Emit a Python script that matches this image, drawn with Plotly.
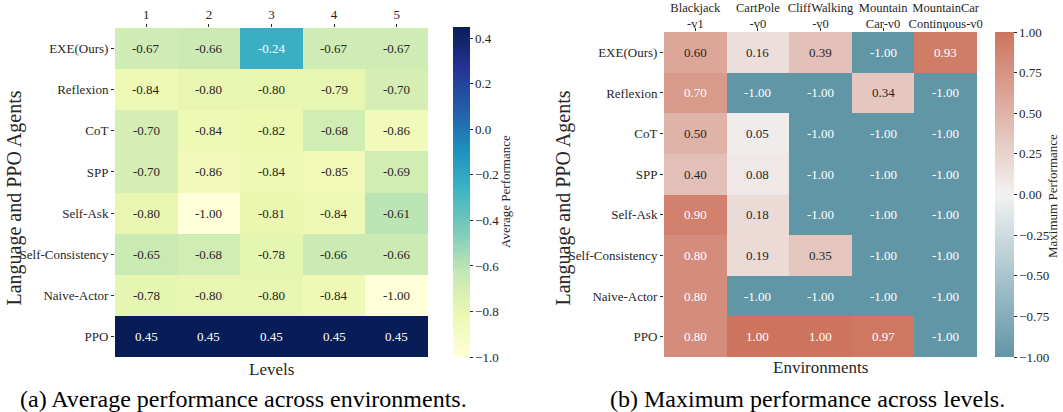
import plotly.graph_objects as go
from plotly.colors import sample_colorscale

# ---------------- data ----------------
agents = ["EXE(Ours)", "Reflexion", "CoT", "SPP", "Self-Ask",
          "Self-Consistency", "Naive-Actor", "PPO"]
levels = ["1", "2", "3", "4", "5"]
avg_perf = [
    [-0.67, -0.66, -0.24, -0.67, -0.67],
    [-0.84, -0.80, -0.80, -0.79, -0.70],
    [-0.70, -0.84, -0.82, -0.68, -0.86],
    [-0.70, -0.86, -0.84, -0.85, -0.69],
    [-0.80, -1.00, -0.81, -0.84, -0.61],
    [-0.65, -0.68, -0.78, -0.66, -0.66],
    [-0.78, -0.80, -0.80, -0.84, -1.00],
    [0.45, 0.45, 0.45, 0.45, 0.45],
]
envs = ["Blackjack<br>-v1", "CartPole<br>-v0", "CliffWalking<br>-v0",
        "Mountain<br>Car-v0", "MountainCar<br>Continuous-v0"]
max_perf = [
    [0.60, 0.16, 0.39, -1.00, 0.93],
    [0.70, -1.00, -1.00, 0.34, -1.00],
    [0.50, 0.05, -1.00, -1.00, -1.00],
    [0.40, 0.08, -1.00, -1.00, -1.00],
    [0.90, 0.18, -1.00, -1.00, -1.00],
    [0.80, 0.19, 0.35, -1.00, -1.00],
    [0.80, -1.00, -1.00, -1.00, -1.00],
    [0.80, 1.00, 1.00, 0.97, -1.00],
]
avg_ticks = [-1.0, -0.8, -0.6, -0.4, -0.2, 0.0, 0.2, 0.4]
max_ticks = [-1.0, -0.75, -0.5, -0.25, 0.0, 0.25, 0.5, 0.75, 1.0]

# ---------------- styles ----------------
FONT = "Liberation Serif, Times New Roman, serif"
DARK = "#262626"
W, H = 1063, 412

ylgnbu = ["rgb(255,255,217)", "rgb(237,248,177)", "rgb(199,233,180)",
          "rgb(127,205,187)", "rgb(65,182,196)", "rgb(29,145,192)",
          "rgb(34,94,168)", "rgb(37,52,148)", "rgb(8,29,88)"]
cs_left = [[i / 8, c] for i, c in enumerate(ylgnbu)]
cs_right = [[0.0, "rgb(97,150,167)"], [0.5, "rgb(242,242,242)"],
            [1.0, "rgb(205,116,94)"]]


def px_x(p):
    return p / W


def px_y(p):
    return 1 - p / H


def lum(rgbstr):
    vals = [float(v) / 255 for v in rgbstr[rgbstr.find("(") + 1:-1].split(",")]
    lin = [v / 12.92 if v <= 0.03928 else ((v + 0.055) / 1.055) ** 2.4 for v in vals]
    return 0.2126 * lin[0] + 0.7152 * lin[1] + 0.0722 * lin[2]


fig = go.Figure()

L_x0, L_x1, L_y0, L_y1 = 115, 428, 28, 357
R_x0, R_x1, R_y0, R_y1 = 664, 977, 32, 357

fig.add_trace(go.Heatmap(
    z=avg_perf, x=levels, y=agents, colorscale=cs_left, zmin=-1.0, zmax=0.45,
    xaxis="x", yaxis="y",
    colorbar=dict(
        x=px_x(453), xanchor="left", y=px_y(357), yanchor="bottom", xpad=0, ypad=0,
        len=(357 - 27) / H, lenmode="fraction", thickness=17, thicknessmode="pixels",
        outlinewidth=0, tickvals=avg_ticks, tickformat=".1f", ticks="outside",
        ticklen=3, tickwidth=0.8, tickcolor=DARK,
        tickfont=dict(family=FONT, size=13, color=DARK),
    ),
))
fig.add_trace(go.Heatmap(
    z=max_perf, x=envs, y=agents, colorscale=cs_right, zmin=-1.0, zmax=1.0,
    xaxis="x2", yaxis="y2",
    colorbar=dict(
        x=px_x(995), xanchor="left", y=px_y(357), yanchor="bottom", xpad=0, ypad=0,
        len=(357 - 32) / H, lenmode="fraction", thickness=19, thicknessmode="pixels",
        outlinewidth=0, tickvals=max_ticks, tickformat=".2f", ticks="outside",
        ticklen=3, tickwidth=0.8, tickcolor=DARK,
        tickfont=dict(family=FONT, size=13, color=DARK),
    ),
))

annotations = []
for z, cs, zmin, zmax, xr, yr in [
    (avg_perf, cs_left, -1.0, 0.45, "x", "y"),
    (max_perf, cs_right, -1.0, 1.0, "x2", "y2"),
]:
    for i, row in enumerate(z):
        for j, v in enumerate(row):
            t = (v - zmin) / (zmax - zmin)
            col = sample_colorscale(cs, [min(max(t, 0), 1)])[0]
            tc = DARK if lum(col) > 0.408 else "white"
            annotations.append(dict(
                x=j, y=i, xref=xr, yref=yr, text=f"{v:.2f}",
                showarrow=False, font=dict(family=FONT, size=13, color=tc)))


def paper_text(text, x, y, size, angle=0, color=DARK):
    return dict(text=text, x=px_x(x), y=px_y(y), xref="paper", yref="paper",
                xanchor="center", yanchor="middle", textangle=angle,
                showarrow=False, font=dict(family=FONT, size=size, color=color))


annotations += [
    paper_text("Levels", (L_x0 + L_x1) / 2, 369, 17),
    paper_text("Environments", (R_x0 + R_x1) / 2, 367, 17),
    paper_text("Language and PPO Agents", 14, (L_y0 + L_y1) / 2 + 6, 20, -90),
    paper_text("Language and PPO Agents", 563, (R_y0 + R_y1) / 2 + 4, 20, -90),
    paper_text("Average Performance", 505, 192, 13, -90),
    paper_text("Maximum Performance", 1052, 196, 13, -90),
    paper_text("(a) Average performance across environments.", 243, 399, 24, 0, "black"),
    paper_text("(b) Maximum performance across levels.", 807, 399, 24, 0, "black"),
]

axis_common = dict(showgrid=False, zeroline=False, showline=False, ticks="outside",
                   ticklen=3, tickwidth=0.8, tickcolor=DARK, tickangle=0)
tick13 = dict(family=FONT, size=13, color=DARK)
tick_env = dict(family=FONT, size=12.5, color=DARK)

fig.update_layout(
    width=W, height=H, margin=dict(l=0, r=0, t=0, b=0, autoexpand=False),
    paper_bgcolor="white", plot_bgcolor="white",
    font=dict(family=FONT, color=DARK),
    xaxis=dict(domain=[px_x(L_x0), px_x(L_x1)], anchor="y", side="top",
               type="category", tickfont=tick13, **axis_common),
    yaxis=dict(domain=[px_y(L_y1), px_y(L_y0)], anchor="x", autorange="reversed",
               type="category", tickfont=tick13, **axis_common),
    xaxis2=dict(domain=[px_x(R_x0), px_x(R_x1)], anchor="y2", side="top",
                type="category", ticklabelstandoff=-5, tickfont=tick_env, **axis_common),
    yaxis2=dict(domain=[px_y(R_y1), px_y(R_y0)], anchor="x2", autorange="reversed",
                type="category", tickfont=tick13, **axis_common),
    annotations=annotations,
)

fig.write_html("out.html", config={"displayModeBar": False},
               post_script="document.body.style.margin='0';")
